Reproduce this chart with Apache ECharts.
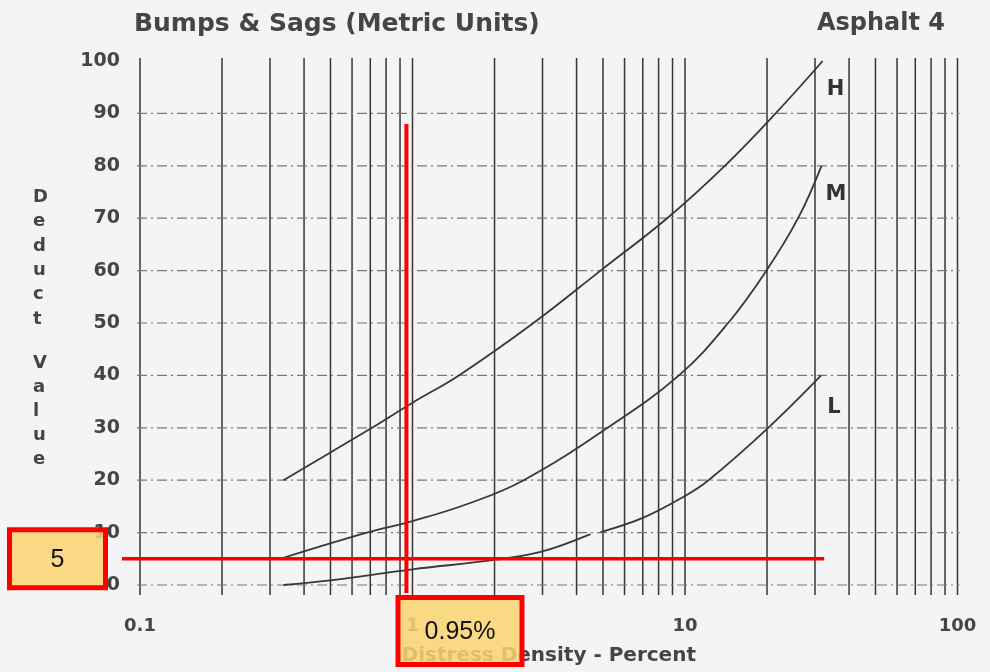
<!DOCTYPE html>
<html>
<head>
<meta charset="utf-8">
<script src="https://cdn.jsdelivr.net/npm/echarts@6/dist/echarts.min.js"></script>
<style>
  html, body { margin: 0; padding: 0; background: #f3f4f6; }
  #chart { width: 990px; height: 672px; }
</style>
</head>
<body>
<div id="chart"></div>
<script>
// Grid values of the log paper (distress density, %) and deduct rows
const densityGrid = [0.1, 0.2, 0.3, 0.4, 0.5, 0.6, 0.7, 0.8, 0.9,
                     1, 2, 3, 4, 5, 6, 7, 8, 9,
                     10, 20, 30, 40, 50, 60, 70, 80, 90, 100];
const deductGrid = [0, 10, 20, 30, 40, 50, 60, 70, 80, 90];

// High severity
const highDensity = [0.336, 0.5, 0.71, 1.0, 1.48, 2.78, 4.9, 8.6, 14, 21.5, 32];
const highDeduct  = [20, 25.3, 30, 34.8, 40, 50, 60, 70, 80, 90, 100];

// Medium severity
const medDensity = [0.336, 0.68, 1.0, 1.6, 2.56, 5.2, 9.5, 14.4, 19.9, 26, 31.7];
const medDeduct  = [5.2, 10, 12.2, 15.5, 20, 30, 40, 50, 60, 70, 80];

// Low severity (the printed curve has a small break near 4.7 %)
const lowDensity = [0.336, 0.5, 0.7, 1.0, 2.0, 2.95, 4.5, null, 4.9, 7, 10, 12.2, 20.2, 31.6];
const lowDeduct  = [0, 0.9, 1.9, 3.0, 4.8, 6.3, 9.7, null, 10.1, 12.8, 17, 20, 30, 40];

// Worked reading: density 0.95 % gives deduct value 5
const readDensity = 0.95;
const readDeduct = 5;
const guideEndDensity = 31.6;
const guideTopDeduct = 88;

const toPairs = (xs, ys) => xs.map((x, i) => (x == null ? ['-', '-'] : [x, ys[i]]));

const inkFont = 'DejaVu Sans';
const ink = '#454545';

const chart = echarts.init(document.getElementById('chart'), null, { renderer: 'canvas' });

const curveStyle = { color: '#383838', width: 1.8 };
const endLabel = {
  show: true,
  formatter: '{a}',
  offset: [-4, 29],
  color: '#333',
  fontFamily: inkFont,
  fontWeight: 'bold',
  fontSize: 21
};

chart.setOption({
  animation: false,
  backgroundColor: '#f3f4f6',
  title: [
    {
      text: 'Bumps & Sags (Metric Units)',
      left: 129, top: 7,
      textStyle: { fontFamily: inkFont, fontWeight: 'bold', fontSize: 25, color: ink }
    },
    {
      text: 'Asphalt 4',
      right: 40, top: 7,
      textStyle: { fontFamily: inkFont, fontWeight: 'bold', fontSize: 24, color: ink }
    }
  ],
  grid: { left: 140, right: 32.5, top: 61, bottom: 87 },
  xAxis: {
    type: 'log',
    logBase: 10,
    min: 0.1,
    max: 100,
    name: 'Distress Density - Percent',
    nameLocation: 'middle',
    nameGap: 61,
    nameTextStyle: { fontFamily: inkFont, fontWeight: 'bold', fontSize: 20, color: ink },
    axisLine: { show: false },
    axisTick: { show: false },
    splitLine: { show: false },
    axisLabel: {
      margin: 32,
      fontFamily: inkFont, fontWeight: 'bold', fontSize: 18, color: ink,
      formatter: v => String(v)
    }
  },
  yAxis: {
    type: 'value',
    min: 0,
    max: 100,
    interval: 10,
    axisLine: { show: false },
    axisTick: { show: false },
    splitLine: { show: false },
    axisLabel: {
      margin: 20,
      fontFamily: inkFont, fontWeight: 'bold', fontSize: 19, color: ink
    }
  },
  graphic: [
    {
      type: 'text', left: 33, top: 185,
      style: {
        text: 'D\ne\nd\nu\nc\nt', fill: ink, font: 'bold 18px "DejaVu Sans"',
        lineHeight: 24.4, align: 'center'
      }
    },
    {
      type: 'text', left: 33, top: 351,
      style: {
        text: 'V\na\nl\nu\ne', fill: ink, font: 'bold 18px "DejaVu Sans"',
        lineHeight: 24, align: 'center'
      }
    }
  ],
  series: [
    {
      // vertical rulings of the log paper
      type: 'custom', silent: true, clip: false, z: 1,
      data: densityGrid.map(v => [v, 0]),
      renderItem(params, api) {
        const cs = params.coordSys;
        const x = api.coord([api.value(0), 0])[0];
        return {
          type: 'line',
          shape: { x1: x, y1: cs.y - 3, x2: x, y2: cs.y + cs.height + 10 },
          style: { stroke: '#363636', lineWidth: 1.5 }
        };
      }
    },
    {
      // dash-dot deduct rows
      type: 'custom', silent: true, clip: false, z: 1,
      data: deductGrid.map(v => [1, v]),
      renderItem(params, api) {
        const cs = params.coordSys;
        const y = api.coord([1, api.value(1)])[1];
        return {
          type: 'line',
          shape: { x1: cs.x - 3, y1: y, x2: cs.x + cs.width + 2, y2: y },
          style: { stroke: '#777', lineWidth: 1.2, lineDash: [10, 4, 2, 4] }
        };
      }
    },
    {
      name: 'H', type: 'line', smooth: 0.4, showSymbol: false, z: 3,
      lineStyle: curveStyle, data: toPairs(highDensity, highDeduct), endLabel
    },
    {
      name: 'M', type: 'line', smooth: 0.4, showSymbol: false, z: 3,
      lineStyle: curveStyle, data: toPairs(medDensity, medDeduct), endLabel
    },
    {
      name: 'L', type: 'line', smooth: 0.4, showSymbol: false, z: 3,
      connectNulls: false,
      lineStyle: curveStyle, data: toPairs(lowDensity, lowDeduct),
      endLabel: Object.assign({}, endLabel, { offset: [-2, 32] })
    },
    {
      // reading guide and its value boxes
      type: 'custom', silent: true, clip: false, z: 10,
      data: [[readDensity, readDeduct]],
      renderItem(params, api) {
        const cs = params.coordSys;
        const p = api.coord([api.value(0), api.value(1)]);
        const xEnd = api.coord([guideEndDensity, 0])[0];
        const yTop = api.coord([api.value(0), guideTopDeduct])[1];
        const xOne = api.coord([1, 0])[0];
        const boxFill = 'rgba(249, 212, 112, 0.86)';
        return {
          type: 'group',
          children: [
            {
              type: 'line',
              shape: { x1: cs.x - 18, y1: p[1], x2: xEnd + 3, y2: p[1] },
              style: { stroke: '#ff0000', lineWidth: 3.5 }
            },
            {
              type: 'line',
              shape: { x1: p[0], y1: yTop, x2: p[0], y2: cs.y + cs.height + 8 },
              style: { stroke: '#ff0000', lineWidth: 4 }
            },
            {
              type: 'rect',
              shape: { x: cs.x - 130.5, y: p[1] - 29, width: 96, height: 58 },
              style: { fill: boxFill, stroke: '#ff0000', lineWidth: 5 }
            },
            {
              type: 'text',
              style: {
                text: String(api.value(1)), x: cs.x - 82.5, y: p[1] + 1,
                align: 'center', verticalAlign: 'middle',
                font: '25px "Liberation Sans"', fill: '#111'
              }
            },
            {
              type: 'rect',
              shape: { x: xOne - 14.5, y: cs.y + cs.height + 12.5, width: 124, height: 67 },
              style: { fill: boxFill, stroke: '#ff0000', lineWidth: 5 }
            },
            {
              type: 'text',
              style: {
                text: api.value(0) + '%', x: xOne + 47.5, y: cs.y + cs.height + 47,
                align: 'center', verticalAlign: 'middle',
                font: '25px "Liberation Sans"', fill: '#111'
              }
            }
          ]
        };
      }
    }
  ]
});
</script>
</body>
</html>
